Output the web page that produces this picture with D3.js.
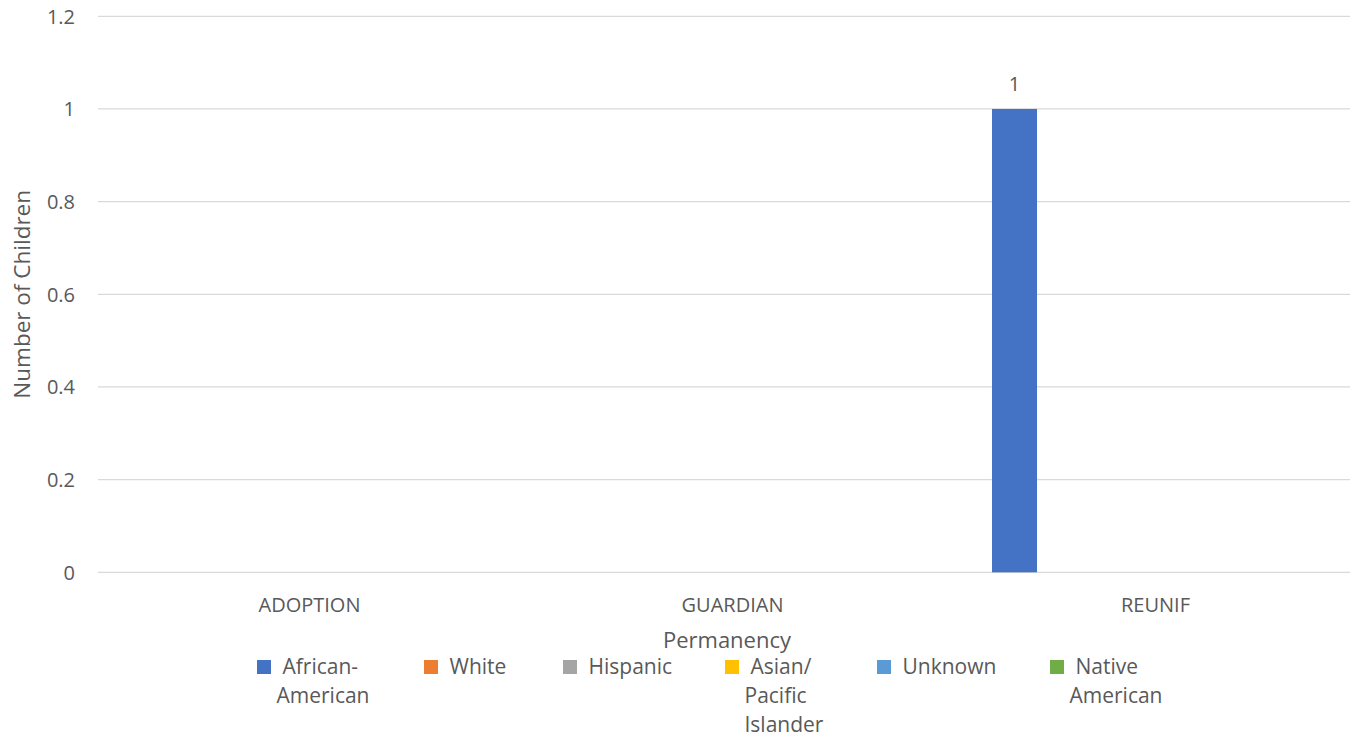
<!DOCTYPE html>
<html>
<head>
<meta charset="utf-8">
<script src="https://cdn.jsdelivr.net/npm/d3@7"></script>
<style>
  html, body { margin: 0; padding: 0; background: #ffffff; }
  svg { display: block; }
  text { font-family: "Open Sans", "Noto Sans", sans-serif; fill: #595959; }
</style>
</head>
<body>
<svg id="chart" width="1350" height="736"></svg>
<script>
// ---- data ----
const categories = ["ADOPTION", "GUARDIAN", "REUNIF"];
const seriesNames = ["African-American", "White", "Hispanic", "Asian/Pacific Islander", "Unknown", "Native American"];
const legendLabels = [["African-", "American"], ["White"], ["Hispanic"], ["Asian/", "Pacific", "Islander"], ["Unknown"], ["Native", "American"]];
const africanAmerican = [0, 0, 1];
const white = [0, 0, 0];
const hispanic = [0, 0, 0];
const asianPacific = [0, 0, 0];
const unknown = [0, 0, 0];
const nativeAmerican = [0, 0, 0];
const yTicks = [0, 0.2, 0.4, 0.6, 0.8, 1, 1.2];
const colors = ["#4472C4", "#ED7D31", "#A5A5A5", "#FFC000", "#5B9BD5", "#70AD47"];
const xTitle = "Permanency";
const yTitle = "Number of Children";

const seriesValues = [africanAmerican, white, hispanic, asianPacific, unknown, nativeAmerican];

// ---- layout ----
const svg = d3.select("#chart");
const plot = { left: 98, right: 1367, top: 16.3, bottom: 572.3 };

const x = d3.scaleBand().domain(categories).range([plot.left, plot.right]).padding(0);
const xInner = d3.scaleBand().domain(seriesNames).range([0, x.bandwidth()])
  .paddingInner(0.202).paddingOuter(0.851);
const y = d3.scaleLinear().domain([0, 1.2]).range([plot.bottom, plot.top]);

// gridlines
svg.append("g")
  .selectAll("line").data(yTicks).join("line")
  .attr("x1", plot.left).attr("x2", plot.right)
  .attr("y1", d => y(d)).attr("y2", d => y(d))
  .attr("stroke", "#D9D9D9").attr("stroke-width", 1.3);

// y axis labels
const yAxis = d3.axisLeft(y).tickValues(yTicks).tickSize(0).tickPadding(0)
  .tickFormat(d => d3.format("~g")(d));
const yg = svg.append("g").attr("transform", `translate(75,0)`).call(yAxis);
yg.select(".domain").remove();
yg.selectAll("text").attr("font-size", 20).attr("fill", "#595959")
  .attr("font-family", "\"Open Sans\", sans-serif").attr("dy", "0.35em");

// x axis labels
const xAxis = d3.axisBottom(x).tickSize(0).tickPadding(0);
const xg = svg.append("g").attr("transform", `translate(0,${plot.bottom})`).call(xAxis);
xg.select(".domain").remove();
xg.selectAll("text").attr("font-size", 20).attr("fill", "#595959")
  .attr("font-family", "\"Open Sans\", sans-serif").attr("dy", null).attr("y", 39.5);

// bars
const barData = [];
seriesNames.forEach((s, si) => {
  categories.forEach((c, ci) => {
    barData.push({ series: s, cat: c, value: seriesValues[si][ci], color: colors[si] });
  });
});
svg.append("g").selectAll("rect").data(barData).join("rect")
  .attr("x", d => x(d.cat) + xInner(d.series))
  .attr("width", xInner.bandwidth())
  .attr("y", d => y(d.value))
  .attr("height", d => y(0) - y(d.value))
  .attr("fill", d => d.color);

// data labels (non-zero)
svg.append("g").selectAll("text").data(barData.filter(d => d.value > 0)).join("text")
  .attr("x", d => x(d.cat) + xInner(d.series) + xInner.bandwidth() / 2)
  .attr("y", d => y(d.value) - 17.5)
  .attr("text-anchor", "middle")
  .attr("font-size", 20)
  .text(d => d3.format("~g")(d.value));

// axis titles
svg.append("text").attr("x", 727).attr("y", 648).attr("text-anchor", "middle")
  .attr("font-size", 22).text(xTitle);
svg.append("text").attr("transform", `translate(30,${(plot.top + plot.bottom) / 2}) rotate(-90)`)
  .attr("text-anchor", "middle").attr("font-size", 22.5).text(yTitle);

// legend
const legendX = [257, 424, 563, 725, 877, 1050];
const lg = svg.append("g");
legendLabels.forEach((lines, i) => {
  const g = lg.append("g").attr("transform", `translate(${legendX[i]},660)`);
  g.append("rect").attr("width", 14).attr("height", 14).attr("fill", colors[i]);
  lines.forEach((ln, li) => {
    g.append("text").attr("x", li === 0 ? 25.5 : 19.5).attr("y", 14.3 + li * 28.6)
      .attr("font-size", 21).text(ln);
  });
});
</script>
</body>
</html>
